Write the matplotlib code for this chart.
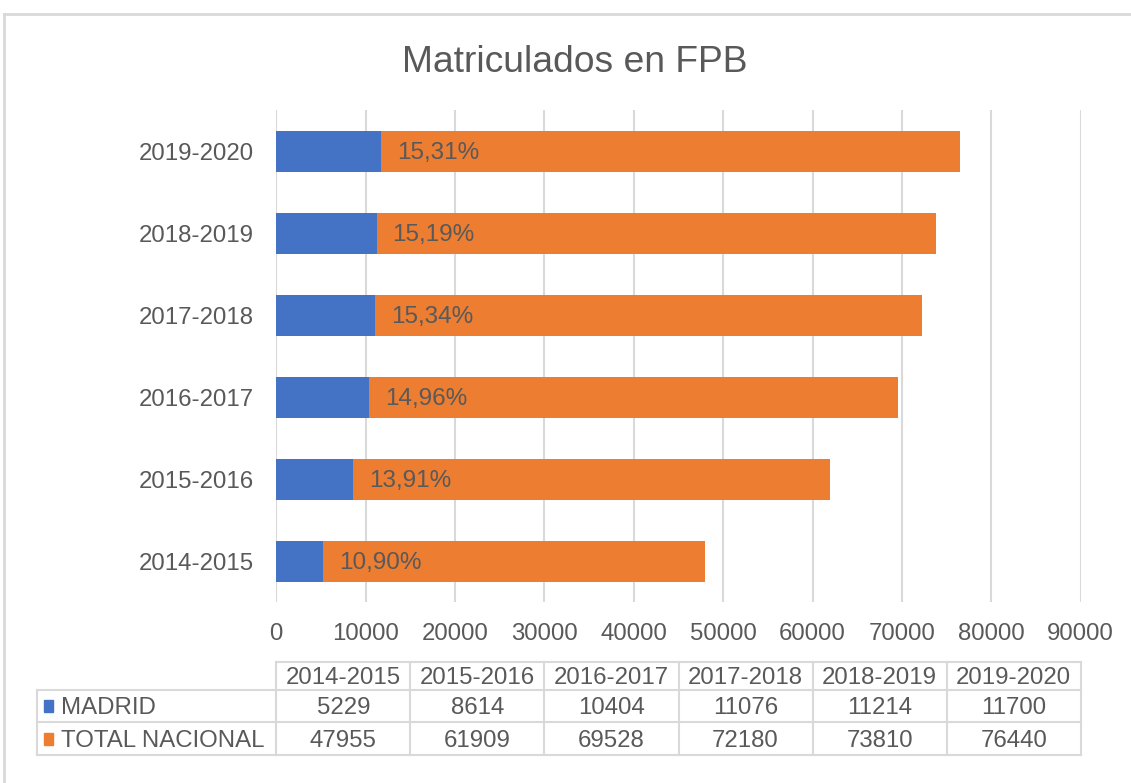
import matplotlib.pyplot as plt
from matplotlib.lines import Line2D
from matplotlib.patches import Rectangle
import matplotlib.transforms as mtransforms

plt.rcParams['font.family'] = ['Liberation Sans', 'DejaVu Sans']

# data
cursos = ['2014-2015', '2015-2016', '2016-2017', '2017-2018', '2018-2019', '2019-2020']
madrid = [5229, 8614, 10404, 11076, 11214, 11700]
total_nacional = [47955, 61909, 69528, 72180, 73810, 76440]
series_names = ['MADRID', 'TOTAL NACIONAL']

blue = '#4472C4'
orange = '#ED7D31'
grey_txt = '#595959'
grid_c = '#D9D9D9'

W, H = 1131, 783
fig = plt.figure(figsize=(W / 100, H / 100), dpi=100)


def fx(px):
    return px / W


def fy(py):
    return 1 - py / H


ax = fig.add_axes([fx(276.3), fy(602), fx(1080.8) - fx(276.3), fy(110) - fy(602)])

y = list(range(len(cursos)))
ax.barh(y, total_nacional, height=0.5, color=orange, zorder=2)
ax.barh(y, madrid, height=0.5, color=blue, zorder=3)

# percentage labels right after the Madrid segment
for i, (m, t) in enumerate(zip(madrid, total_nacional)):
    pct = f"{m / t * 100:.2f}".replace('.', ',') + '%'
    ax.annotate(pct, xy=(m, i), xytext=(11.5, 0), textcoords='offset points',
                ha='left', va='center_baseline', fontsize=17.5, color=grey_txt, zorder=4)

ax.set_xlim(0, 90000)
ax.set_ylim(-0.5, len(cursos) - 0.5)
ax.set_xticks(range(0, 90001, 10000))
ax.set_yticks(y)
ax.set_yticklabels(cursos)
ax.tick_params(axis='both', length=0, labelsize=17.3, colors=grey_txt)
ax.tick_params(axis='x', pad=15)
ax.tick_params(axis='y', pad=16)
ax.xaxis.grid(True, color=grid_c, linewidth=1.5, zorder=0)
ax.set_axisbelow(True)
for s in ax.spines.values():
    s.set_visible(False)

# title
fig.text(fx(575), fy(58), 'Matriculados en FPB', ha='center', va='center_baseline',
         fontsize=26.8, color=grey_txt)

# data table below the chart
trans = mtransforms.blended_transform_factory(ax.transData, fig.transFigure)
row_y = [fy(662), fy(690), fy(722), fy(755)]
col_x = [i * 15000 for i in range(len(cursos) + 1)]

# horizontal lines
fig.add_artist(Line2D([col_x[0], col_x[-1]], [row_y[0], row_y[0]], transform=trans,
                      color=grid_c, lw=1.5))
for yy in row_y[1:]:
    fig.add_artist(Line2D([fx(37), fx(1080.8)], [yy, yy], transform=fig.transFigure,
                          color=grid_c, lw=1.5))
# vertical lines
for xx in col_x:
    fig.add_artist(Line2D([xx, xx], [row_y[0], row_y[-1]], transform=trans,
                          color=grid_c, lw=1.5))
fig.add_artist(Line2D([fx(37), fx(37)], [row_y[1], row_y[-1]], transform=fig.transFigure,
                      color=grid_c, lw=1.5))

# header
for j, c in enumerate(cursos):
    xc = (col_x[j] + col_x[j + 1]) / 2
    fig.text(xc, (row_y[0] + row_y[1]) / 2, c, transform=trans, ha='center',
             va='center_baseline', fontsize=17.3, color=grey_txt)

# rows
for r, (name, vals, col) in enumerate(zip(series_names, [madrid, total_nacional], [blue, orange])):
    yc = (row_y[r + 1] + row_y[r + 2]) / 2
    fig.add_artist(Rectangle((fx(44), yc - 6 / H), 9 / W, 12 / H,
                             transform=fig.transFigure, color=col))
    fig.text(fx(61), yc, name, ha='left', va='center_baseline', fontsize=17.3,
             color=grey_txt)
    for j, v in enumerate(vals):
        xc = (col_x[j] + col_x[j + 1]) / 2
        fig.text(xc, yc, str(v), transform=trans, ha='center', va='center_baseline',
                 fontsize=17.3, color=grey_txt)

# chart area border (cropped at right and bottom)
fig.add_artist(Line2D([fx(4), 1], [fy(14), fy(14)], transform=fig.transFigure,
                      color=grid_c, lw=2))
fig.add_artist(Line2D([fx(4), fx(4)], [fy(14), 0], transform=fig.transFigure,
                      color=grid_c, lw=2))

fig.savefig('out.png', dpi=100)
